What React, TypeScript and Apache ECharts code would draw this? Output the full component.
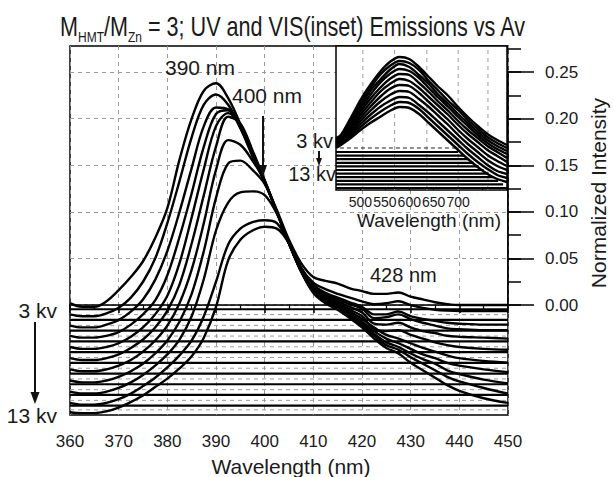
import React, { useEffect, useRef } from "react";
import * as echarts from "echarts";

const FONT = "'Liberation Sans', Arial, sans-serif";

// ---------- main (UV) panel ----------
const wavelengths = [360, 362.5, 365, 367.5, 370, 372.5, 375, 377.5, 380, 382.5, 385, 387.5, 390, 392.5, 395, 397.5, 400, 402.5, 405, 407.5, 410, 412.5, 415, 417.5, 420, 422.5, 425, 427.5, 430, 432.5, 435, 437.5, 440, 445, 450];

const uv3kv = [0.002, -0.002, -0.002, 0.004, 0.016, 0.030, 0.047, 0.072, 0.104, 0.156, 0.200, 0.230, 0.238, 0.222, 0.194, 0.160, 0.132, 0.102, 0.070, 0.045, 0.030, 0.026, 0.023, 0.018, 0.015, 0.012, 0.012, 0.0135, 0.009, 0.006, 0.003, 0.001, 0.000, 0.000, 0.000];
const uv4kv = [-0.010, -0.012, -0.012, -0.009, -0.003, 0.008, 0.025, 0.050, 0.088, 0.133, 0.180, 0.215, 0.226, 0.215, 0.190, 0.160, 0.132, 0.100, 0.068, 0.040, 0.024, 0.017, 0.012, 0.008, 0.004, 0.001, 0.002, 0.004, 0.000, -0.003, -0.005, -0.006, -0.0065, -0.0065, -0.0065];
const uv5kv = [-0.022, -0.024, -0.024, -0.021, -0.016, -0.007, 0.006, 0.027, 0.058, 0.100, 0.147, 0.192, 0.212, 0.210, 0.190, 0.162, 0.133, 0.100, 0.067, 0.040, 0.022, 0.013, 0.008, 0.003, -0.002, -0.010, -0.010, -0.007, -0.012, -0.015, -0.017, -0.019, -0.020, -0.021, -0.021];
const uv6kv = [-0.033, -0.035, -0.035, -0.033, -0.029, -0.021, -0.010, 0.005, 0.032, 0.073, 0.120, 0.170, 0.205, 0.209, 0.192, 0.163, 0.133, 0.100, 0.067, 0.039, 0.020, 0.011, 0.006, 0.001, -0.004, -0.014, -0.013, -0.010, -0.015, -0.019, -0.022, -0.025, -0.026, -0.027, -0.027];
const uv7kv = [-0.045, -0.047, -0.047, -0.045, -0.041, -0.034, -0.024, -0.010, 0.010, 0.045, 0.094, 0.146, 0.192, 0.206, 0.193, 0.164, 0.133, 0.100, 0.066, 0.038, 0.019, 0.009, 0.004, -0.002, -0.008, -0.020, -0.021, -0.019, -0.024, -0.028, -0.030, -0.033, -0.034, -0.035, -0.036];
const uv8kv = [-0.057, -0.059, -0.059, -0.057, -0.053, -0.046, -0.037, -0.024, -0.006, 0.022, 0.066, 0.118, 0.170, 0.202, 0.195, 0.166, 0.134, 0.100, 0.066, 0.037, 0.018, 0.007, 0.002, -0.005, -0.012, -0.026, -0.028, -0.027, -0.032, -0.036, -0.040, -0.043, -0.045, -0.047, -0.048];
const uv9kv = [-0.069, -0.071, -0.071, -0.069, -0.065, -0.059, -0.050, -0.038, -0.022, 0.002, 0.038, 0.088, 0.145, 0.177, 0.172, 0.155, 0.133, 0.100, 0.066, 0.037, 0.017, 0.006, 0.001, -0.007, -0.015, -0.024, -0.032, -0.036, -0.041, -0.046, -0.050, -0.054, -0.057, -0.060, -0.062];
const uv10kv = [-0.081, -0.083, -0.083, -0.081, -0.077, -0.071, -0.063, -0.052, -0.038, -0.018, 0.012, 0.058, 0.115, 0.152, 0.155, 0.145, 0.130, 0.100, 0.066, 0.036, 0.016, 0.005, 0.000, -0.009, -0.018, -0.028, -0.036, -0.041, -0.047, -0.053, -0.057, -0.062, -0.065, -0.069, -0.072];
const uv11kv = [-0.093, -0.095, -0.095, -0.093, -0.089, -0.083, -0.075, -0.065, -0.053, -0.037, -0.012, 0.028, 0.080, 0.110, 0.121, 0.122, 0.118, 0.098, 0.066, 0.036, 0.015, 0.004, -0.002, -0.011, -0.020, -0.031, -0.040, -0.045, -0.052, -0.058, -0.063, -0.070, -0.074, -0.080, -0.084];
const uv12kv = [-0.105, -0.107, -0.107, -0.105, -0.101, -0.095, -0.087, -0.078, -0.067, -0.054, -0.038, -0.012, 0.025, 0.065, 0.082, 0.089, 0.091, 0.088, 0.066, 0.036, 0.014, 0.003, -0.003, -0.012, -0.022, -0.033, -0.043, -0.048, -0.056, -0.063, -0.070, -0.077, -0.082, -0.089, -0.095];
const uv13kv = [-0.115, -0.116, -0.116, -0.114, -0.110, -0.104, -0.097, -0.088, -0.079, -0.068, -0.055, -0.035, -0.002, 0.048, 0.070, 0.080, 0.084, 0.082, 0.066, 0.036, 0.013, 0.002, -0.005, -0.014, -0.024, -0.036, -0.046, -0.052, -0.062, -0.070, -0.078, -0.086, -0.092, -0.100, -0.105];
const uvCurves = [uv3kv, uv4kv, uv5kv, uv6kv, uv7kv, uv8kv, uv9kv, uv10kv, uv11kv, uv12kv, uv13kv];

const uvStackSolid = [-0.0045, -0.016, -0.0275, -0.039, -0.0505, -0.062, -0.0735, -0.085, -0.0965, -0.108];
const uvStackDashed = [-0.0103, -0.0218, -0.0333, -0.0448, -0.0563, -0.0678, -0.0793, -0.0908, -0.1023, -0.1125];

const Y_MIN = -0.118;
const Y_MAX = 0.278;

// ---------- inset (VIS) panel ----------
const visWavelengths = [450, 460, 480, 500, 520, 540, 560, 580, 600, 620, 640, 660, 680, 700, 720, 740, 760, 780, 800];
const vis3kv = [0.52, 0.55, 0.72, 0.90, 1.05, 1.18, 1.28, 1.33, 1.31, 1.23, 1.13, 1.03, 0.94, 0.83, 0.73, 0.64, 0.56, 0.50, 0.45];
const vis4kv = [0.51, 0.54, 0.70, 0.88, 1.02, 1.15, 1.24, 1.29, 1.27, 1.20, 1.09, 0.99, 0.89, 0.80, 0.70, 0.61, 0.53, 0.47, 0.42];
const vis5kv = [0.50, 0.53, 0.68, 0.84, 0.99, 1.10, 1.20, 1.26, 1.23, 1.15, 1.06, 0.95, 0.86, 0.76, 0.67, 0.58, 0.50, 0.44, 0.39];
const vis6kv = [0.49, 0.52, 0.66, 0.81, 0.95, 1.07, 1.16, 1.21, 1.19, 1.12, 1.02, 0.92, 0.83, 0.73, 0.64, 0.55, 0.47, 0.41, 0.36];
const vis7kv = [0.48, 0.51, 0.64, 0.78, 0.91, 1.02, 1.11, 1.16, 1.15, 1.07, 0.98, 0.88, 0.79, 0.69, 0.60, 0.52, 0.44, 0.38, 0.32];
const vis8kv = [0.47, 0.50, 0.62, 0.75, 0.87, 0.98, 1.06, 1.11, 1.09, 1.02, 0.93, 0.84, 0.75, 0.65, 0.56, 0.48, 0.40, 0.34, 0.28];
const vis9kv = [0.46, 0.49, 0.60, 0.72, 0.83, 0.93, 1.01, 1.05, 1.04, 0.97, 0.88, 0.79, 0.70, 0.60, 0.51, 0.43, 0.35, 0.29, 0.24];
const vis10kv = [0.45, 0.48, 0.58, 0.69, 0.79, 0.88, 0.95, 0.99, 0.98, 0.91, 0.83, 0.74, 0.65, 0.55, 0.46, 0.38, 0.30, 0.24, 0.20];
const vis11kv = [0.44, 0.47, 0.56, 0.66, 0.75, 0.83, 0.89, 0.93, 0.92, 0.85, 0.77, 0.68, 0.59, 0.50, 0.41, 0.33, 0.25, 0.19, 0.16];
const vis12kv = [0.43, 0.46, 0.54, 0.63, 0.71, 0.78, 0.84, 0.88, 0.87, 0.81, 0.72, 0.63, 0.54, 0.45, 0.36, 0.28, 0.21, 0.15, 0.12];
const vis13kv = [0.42, 0.45, 0.52, 0.60, 0.67, 0.73, 0.79, 0.83, 0.82, 0.76, 0.67, 0.58, 0.49, 0.40, 0.31, 0.23, 0.16, 0.11, 0.08];
const visCurves = [vis3kv, vis4kv, vis5kv, vis6kv, vis7kv, vis8kv, vis9kv, vis10kv, vis11kv, vis12kv, vis13kv];

const visStackLevels = [0.38, 0.344, 0.308, 0.272, 0.236, 0.20, 0.164, 0.128, 0.092, 0.056, 0.02];
const visStackEnds = [700, 712, 722, 732, 742, 752, 762, 772, 782, 792, 800];
const visStackTop = 0.42;
const visGridNm = [505, 570, 636, 700, 761];
const VIS_Y_MAX = 1.44;

function buildOption(): any {
  const G = { left: 70, top: 46, width: 438, height: 369 };
  const ppu = G.height / (Y_MAX - Y_MIN);
  const zeroPx = G.top + Y_MAX * ppu;

  const series: any[] = [];
  const plain = { showSymbol: false, silent: true, animation: false };

  uvStackDashed.forEach((lv) =>
    series.push({ ...plain, type: "line", xAxisIndex: 0, yAxisIndex: 0, z: 2, data: [[360, lv], [450, lv]], lineStyle: { color: "#9a9a9a", width: 1, type: [4, 4] } })
  );
  uvStackSolid.forEach((lv) =>
    series.push({ ...plain, type: "line", xAxisIndex: 0, yAxisIndex: 0, z: 3, data: [[360, lv], [450, lv]], lineStyle: { color: "#000", width: 2.2 } })
  );
  series.push({ ...plain, type: "line", xAxisIndex: 0, yAxisIndex: 0, z: 3, data: [[360, 0], [450, 0]], lineStyle: { color: "#222", width: 1.3, type: [4, 3] } });
  uvCurves.forEach((vals) =>
    series.push({
      ...plain,
      type: "line",
      xAxisIndex: 0,
      yAxisIndex: 0,
      z: 4,
      smooth: 0.35,
      data: wavelengths.map((w, i) => [w, vals[i]]),
      lineStyle: { color: "#000", width: 2.4 },
    })
  );

  // inset
  visGridNm.forEach((nm) =>
    series.push({ ...plain, type: "line", xAxisIndex: 2, yAxisIndex: 2, z: 12, data: [[nm, 0], [nm, VIS_Y_MAX]], lineStyle: { color: "#9a9a9a", width: 1, type: [4, 4] } })
  );
  series.push({ ...plain, type: "line", xAxisIndex: 2, yAxisIndex: 2, z: 12, data: [[458, visStackTop], [700, visStackTop]], lineStyle: { color: "#222", width: 1.2, type: [4, 3] } });
  visStackLevels.forEach((lv, i) =>
    series.push({ ...plain, type: "line", xAxisIndex: 2, yAxisIndex: 2, z: 13, data: [[450, lv], [visStackEnds[i], lv]], lineStyle: { color: "#000", width: 2.2 } })
  );
  visCurves.forEach((vals) =>
    series.push({
      ...plain,
      type: "line",
      xAxisIndex: 2,
      yAxisIndex: 2,
      z: 14,
      smooth: 0.3,
      data: visWavelengths.map((w, i) => [w, vals[i]]),
      lineStyle: { color: "#000", width: 2.4 },
    })
  );

  const txt = (text: string, x: number, y: number, size: number, align: string = "left", extra: any = {}) => ({
    type: "text",
    x,
    y,
    z: 100,
    silent: true,
    ...extra,
    style: { text, fill: "#1a1a1a", font: `${size}px ${FONT}`, align, verticalAlign: "middle" },
  });

  const arrow = (x: number, y1: number, y2: number, head: number, hw: number) => [
    { type: "line", z: 100, silent: true, shape: { x1: x, y1, x2: x, y2: y2 - head + 2 }, style: { stroke: "#111", lineWidth: 2 } },
    { type: "polygon", z: 100, silent: true, shape: { points: [[x - hw, y2 - head], [x + hw, y2 - head], [x, y2]] }, style: { fill: "#111" } },
  ];

  return {
    animation: false,
    backgroundColor: "#fff",
    textStyle: { fontFamily: FONT },
    grid: [
      { left: G.left, top: G.top, width: G.width, height: G.height, show: true, borderColor: "#000", borderWidth: 1.5, backgroundColor: "transparent" },
      { left: G.left, top: zeroPx - 0.25 * ppu, width: G.width, height: 0.25 * ppu },
      { left: 336, top: 46, width: 171, height: 144, show: true, backgroundColor: "#fff", borderColor: "#000", borderWidth: 1.5, z: 10 },
      { left: G.left, top: zeroPx - 0.275 * ppu, width: G.width, height: 0.275 * ppu },
    ],
    xAxis: [
      {
        gridIndex: 0,
        type: "value",
        min: 360,
        max: 450,
        interval: 10,
        axisLine: { show: true, lineStyle: { color: "#000", width: 1.5 } },
        axisTick: { show: true, length: 8, lineStyle: { color: "#000", width: 1.5 } },
        minorTick: { show: true, splitNumber: 2, length: 4, lineStyle: { color: "#000", width: 1.2 } },
        axisLabel: { fontSize: 17, color: "#1a1a1a", margin: 18, fontFamily: FONT },
        splitLine: { show: true, lineStyle: { color: "#9a9a9a", width: 1, type: [4, 4] } },
      },
      { gridIndex: 1, type: "value", min: 360, max: 450, show: false },
      {
        gridIndex: 2,
        type: "value",
        min: 450,
        max: 800,
        interval: 50,
        z: 11,
        axisLine: { show: false },
        axisTick: { show: true, inside: true, length: 3, lineStyle: { color: "#000" } },
        axisLabel: {
          fontSize: 14,
          color: "#1a1a1a",
          margin: 5,
          fontFamily: FONT,
          formatter: (v: number) => (v >= 500 && v <= 700 ? String(v) : ""),
        },
        splitLine: { show: false },
      },
      { gridIndex: 3, type: "value", min: 360, max: 450, show: false },
    ],
    yAxis: [
      { gridIndex: 0, type: "value", min: Y_MIN, max: Y_MAX, show: false },
      {
        gridIndex: 1,
        type: "value",
        position: "right",
        min: 0,
        max: 0.25,
        interval: 0.05,
        axisLine: { show: true, lineStyle: { color: "#000", width: 1.5 } },
        axisTick: { show: true, length: 26, lineStyle: { color: "#000", width: 1.5 } },
        axisLabel: { fontSize: 17, color: "#1a1a1a", margin: 37, fontFamily: FONT, formatter: (v: number) => v.toFixed(2) },
        splitLine: { show: true, lineStyle: { color: "#9a9a9a", width: 1, type: [4, 4] } },
      },
      { gridIndex: 2, type: "value", min: 0, max: VIS_Y_MAX, show: false },
      {
        gridIndex: 3,
        type: "value",
        position: "right",
        min: 0,
        max: 0.275,
        interval: 0.025,
        axisLine: { show: false },
        axisTick: { show: true, length: 13, lineStyle: { color: "#000", width: 1.5 } },
        axisLabel: { show: false },
        splitLine: { show: false },
      },
    ],
    series,
    graphic: {
      elements: [
        {
          type: "text",
          x: 60,
          y: 27,
          z: 100,
          scaleX: 0.8,
          silent: true,
          style: {
            text: "{a|M}{b|HMT}{a|/M}{b|Zn}{a| = 3; UV and VIS(inset) Emissions vs Av}",
            align: "left",
            verticalAlign: "middle",
            rich: {
              a: { fontSize: 27, fontFamily: FONT, fill: "#1a1a1a", lineHeight: 36, verticalAlign: "middle" },
              b: { fontSize: 15, fontFamily: FONT, fill: "#1a1a1a", lineHeight: 36, verticalAlign: "bottom" },
            },
          },
        },
        txt("390 nm", 200, 67, 21, "center"),
        txt("400 nm", 232, 95, 21, "left"),
        ...arrow(263, 116, 177, 12, 4),
        txt("428 nm", 370, 275, 20, "left"),
        txt("3 kv", 57, 310, 21, "right"),
        txt("13 kv", 57, 415, 21, "right"),
        ...arrow(35, 322, 404, 12, 4.5),
        txt("3 kv", 333, 141, 20, "right"),
        txt("13 kv", 336, 174, 20, "right"),
        ...arrow(319, 151, 166, 8, 3),
        txt("Wavelength (nm)", 429, 220, 19, "center"),
        txt("Wavelength (nm)", 291, 466, 21, "center"),
        txt("Normalized Intensity", 598, 193, 21, "center", { rotation: Math.PI / 2 }),
      ],
    },
  };
}

export default function App() {
  const ref = useRef<HTMLDivElement>(null);
  useEffect(() => {
    if (!ref.current) return;
    const chart = echarts.init(ref.current, null, { renderer: "svg" });
    chart.setOption(buildOption());
    return () => chart.dispose();
  }, []);
  return <div ref={ref} style={{ position: "fixed", left: 0, top: 0, width: 614, height: 477, background: "#fff" }} />;
}
